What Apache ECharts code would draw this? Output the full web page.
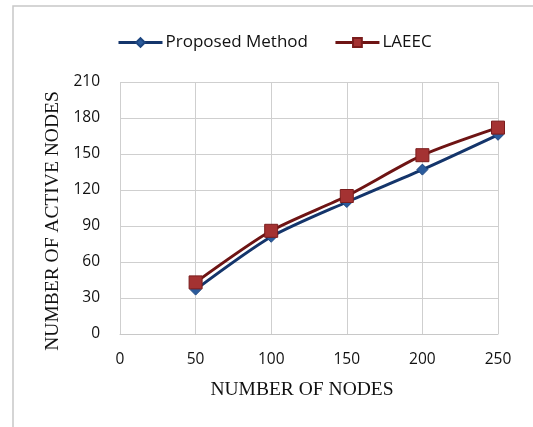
<!DOCTYPE html>
<html><head><meta charset="utf-8">
<script src="https://cdn.jsdelivr.net/npm/echarts@6/dist/echarts.min.js"></script>
<style>html,body{margin:0;padding:0;background:#fff}#c{width:533px;height:427px}</style>
</head><body><div id="c"></div>
<script>
var nodes = [50, 100, 150, 200, 250];
var proposed = [37, 81, 110, 137, 166];
var laeec = [43, 86, 115, 149, 172];
var seriesNames = ['Proposed Method', 'LAEEC'];

var chart = echarts.init(document.getElementById('c'));
function pairs(xs, ys){ return xs.map(function(x,i){return [x, ys[i]];}); }
chart.setOption({
  animation: false,
  backgroundColor: '#fff',
  graphic: [{type:'rect', shape:{x:13, y:6, width:600, height:600}, style:{fill:'none', stroke:'#c8c8c8', lineWidth:1.5}, silent:true}],
  legend: {
    top: 29, left: 112, itemGap: 26, itemWidth: 44, itemHeight: 11,
    lineStyle: {width: 3},
    textStyle: {fontFamily: 'Open Sans', fontSize: 17, color: '#111', padding: [0,0,0,-2]},
    data: seriesNames
  },
  grid: {left: 120, right: 35, top: 82, bottom: 93},
  xAxis: {
    type: 'value', min: 0, max: 250, interval: 50,
    name: 'NUMBER OF NODES', nameLocation: 'middle', nameGap: 46,
    nameTextStyle: {fontFamily: 'Liberation Serif', fontSize: 19.5, color: '#111', padding: [0, 14, 0, 0]},
    axisLine: {show: true, lineStyle: {color: '#c8c8c8'}},
    axisTick: {show: false},
    axisLabel: {margin: 18, fontFamily: 'Open Sans', fontSize: 15.5, color: '#111'},
    splitLine: {show: true, lineStyle: {color: '#cfcfcf', width: 1}}
  },
  yAxis: {
    type: 'value', min: 0, max: 210, interval: 30,
    name: 'NUMBER OF ACTIVE NODES', nameLocation: 'middle', nameGap: 57,
    nameTextStyle: {fontFamily: 'Liberation Serif', fontSize: 19.5, color: '#111', padding: [0, 26, 0, 0]},
    axisLine: {show: false},
    axisTick: {show: false},
    axisLabel: {margin: 20, fontFamily: 'Open Sans', fontSize: 15.5, color: '#111'},
    splitLine: {show: true, lineStyle: {color: '#cfcfcf', width: 1}}
  },
  series: [
    {
      name: seriesNames[0], type: 'line', smooth: 0.25,
      data: pairs(nodes, proposed),
      symbol: 'diamond', symbolSize: 11,
      lineStyle: {color: '#14356b', width: 3},
      itemStyle: {color: '#2a5b9c', borderColor: '#1d4680', borderWidth: 1},
      z: 2
    },
    {
      name: seriesNames[1], type: 'line', smooth: 0.25,
      data: pairs(nodes, laeec),
      symbol: 'rect', symbolSize: 13,
      lineStyle: {color: '#6e1414', width: 3},
      itemStyle: {color: '#a43232', borderColor: '#7a1c1c', borderWidth: 1},
      z: 3
    }
  ]
});
</script></body></html>
